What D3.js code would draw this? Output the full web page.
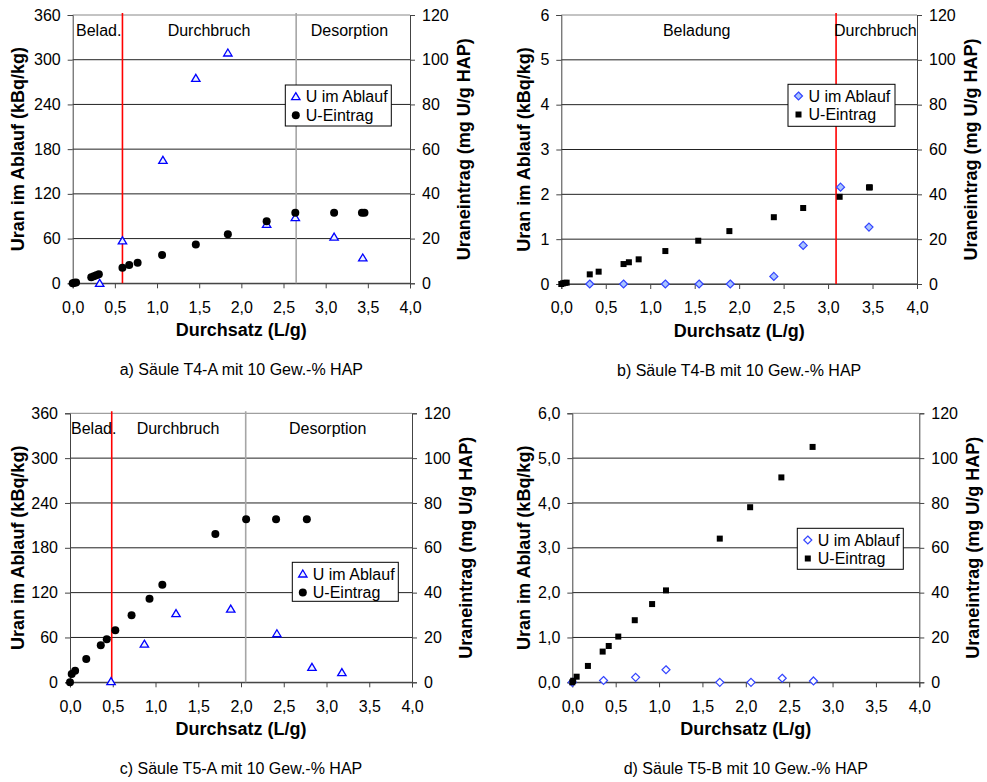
<!DOCTYPE html>
<html><head><meta charset="utf-8">
<script src="https://cdn.jsdelivr.net/npm/d3@7/dist/d3.min.js"></script>
<style>body{margin:0;background:#fff}svg{display:block;font-family:"Liberation Sans",Arial,sans-serif}</style>
</head><body><svg id="c" width="987" height="782"></svg>
<script>
// ---------- DATA ----------
const xTicks = [0, 0.5, 1, 1.5, 2, 2.5, 3, 3.5, 4];
const rightTicks = [0, 20, 40, 60, 80, 100, 120];
const leftTicksAC = [0, 60, 120, 180, 240, 300, 360];
const leftTicksBD = [0, 1, 2, 3, 4, 5, 6];
const captions = ["a) Säule T4-A mit 10 Gew.-% HAP", "b) Säule T4-B mit 10 Gew.-% HAP",
                  "c) Säule T5-A mit 10 Gew.-% HAP", "d) Säule T5-B mit 10 Gew.-% HAP"];
const legendNames = ["U im Ablauf", "U-Eintrag"];

// Panel a (T4-A)
const ablaufA_x = [0.32, 0.59, 1.07, 1.46, 1.84, 2.30, 2.64, 3.10, 3.44];
const ablaufA_y = [0, 57, 165, 275, 309, 79, 88, 62, 34];
const eintragA_x = [0.00, 0.02, 0.04, 0.22, 0.25, 0.28, 0.31, 0.59, 0.67, 0.77, 1.06, 1.46, 1.84, 2.30, 2.64, 3.10, 3.43, 3.46];
const eintragA_y = [0, 0.2, 0.4, 2.7, 3.1, 3.6, 4.1, 7.0, 8.2, 9.2, 12.7, 17.3, 21.9, 27.7, 31.6, 31.6, 31.6, 31.6];
const phasesA = [{label: "Belad.", x: 0.59, color: "red"}, {label: "Durchbruch"}, {label: "Desorption", x: 2.65, color: "gray"}];

// Panel b (T4-B)
const ablaufB_x = [0.32, 0.70, 1.17, 1.55, 1.90, 2.39, 2.72, 3.14, 3.46];
const ablaufB_y = [0, 0, 0, 0, 0, 0.17, 0.86, 2.16, 1.27];
const eintragB_x = [0.00, 0.02, 0.04, 0.06, 0.32, 0.42, 0.70, 0.76, 0.87, 1.17, 1.54, 1.89, 2.39, 2.72, 3.13, 3.46, 3.47];
const eintragB_y = [0, 0.3, 0.5, 0.6, 4.3, 5.5, 8.9, 9.7, 11.0, 14.7, 19.3, 23.6, 29.8, 33.9, 38.9, 43.1, 43.1];

// Panel c (T5-A)
const ablaufC_x = [0.48, 0.87, 1.24, 1.88, 2.42, 2.83, 3.18];
const ablaufC_y = [1, 51, 92, 98, 65, 20, 13];
const eintragC_x = [0.00, 0.02, 0.06, 0.19, 0.36, 0.43, 0.53, 0.72, 0.93, 1.08, 1.70, 2.06, 2.41, 2.77];
const eintragC_y = [0, 3.7, 5.2, 10.4, 16.5, 19.2, 23.2, 29.9, 37.3, 43.5, 66.2, 72.7, 72.7, 72.7];

// Panel d (T5-B)
const ablaufD_x = [0.00, 0.36, 0.73, 1.08, 1.70, 2.06, 2.42, 2.78];
const ablaufD_y = [0, 0.04, 0.11, 0.28, 0, 0, 0.09, 0.03];
const eintragD_x = [0.00, 0.01, 0.05, 0.18, 0.35, 0.42, 0.53, 0.72, 0.92, 1.08, 1.70, 2.05, 2.41, 2.77];
const eintragD_y = [0, 0.7, 2.5, 7.3, 13.7, 16.2, 20.4, 27.7, 34.9, 41.0, 64.1, 78.1, 91.4, 105.0];

// ---------- DRAW ----------
const svg = d3.select("#c");
const fmtX = d => d3.format(".1f")(d).replace(".", ",");
const zip = (xs, ys) => xs.map((x, i) => ({x, y: ys[i]}));

function marker(g, type, fill) {
  if (type === "tri") g.append("path").attr("d", "M0,-4L4.2,3L-4.2,3Z").attr("fill", "#eef3ff").attr("stroke", "#0000ff").attr("stroke-width", 1.3);
  else if (type === "dia") g.append("path").attr("d", "M0,-4L4,0L0,4L-4,0Z").attr("fill", fill).attr("stroke", "#3344ff").attr("stroke-width", 1.2);
  else if (type === "circ") g.append("circle").attr("r", 4).attr("fill", "#000");
  else if (type === "sq") g.append("rect").attr("x", -3).attr("y", -3).attr("width", 6).attr("height", 6).attr("fill", "#000");
}

function panel(o) {
  const g = svg.append("g");
  const x = d3.scaleLinear().domain([0, 4]).range([o.l, o.r]);
  const yL = d3.scaleLinear().domain([0, o.leftMax]).range([o.b, o.t]);
  const yR = d3.scaleLinear().domain([0, 120]).range([o.b, o.t]);
  // gridlines
  g.append("g").selectAll("line").data(o.leftTicks).join("line")
    .attr("x1", o.l).attr("x2", o.r).attr("y1", d => yL(d)).attr("y2", d => yL(d))
    .attr("stroke", d => d === o.leftMax ? "#888" : "#222").attr("stroke-width", 1);
  // axes
  const ax = g.append("g").attr("transform", `translate(0,${o.b})`)
    .call(d3.axisBottom(x).tickValues(xTicks).tickFormat(fmtX).tickSize(5).tickPadding(13));
  const al = g.append("g").attr("transform", `translate(${o.l},0)`)
    .call(d3.axisLeft(yL).tickValues(o.leftTicks).tickFormat(o.leftFmt).tickSize(5).tickPadding(7));
  const ar = g.append("g").attr("transform", `translate(${o.r},0)`)
    .call(d3.axisRight(yR).tickValues(rightTicks).tickSize(5).tickPadding(7));
  [ax, al, ar].forEach(a => {
    a.selectAll("text").attr("font-size", 16).attr("fill", "#000").attr("font-family", "Liberation Sans, Arial, sans-serif");
    a.selectAll("line,path").attr("stroke", "#444");
  });
  // phase lines
  o.phases.forEach(p => {
    if (p.x !== undefined) g.append("line").attr("x1", x(p.x)).attr("x2", x(p.x)).attr("y1", o.t - 2).attr("y2", o.b)
      .attr("stroke", p.color === "red" ? "#ff0000" : "#a6a6a6").attr("stroke-width", 1.6);
  });
  o.labels.forEach(lb => {
    g.append("text").attr("x", lb.px).attr("y", o.t + 20.7).attr("text-anchor", lb.anchor)
      .attr("font-size", 16).text(lb.text);
  });
  // series
  zip(o.ax, o.ay).forEach(d => marker(g.append("g").attr("transform", `translate(${x(d.x)},${yL(d.y)})`), o.ablaufType, o.diaFill));
  zip(o.ex, o.ey).forEach(d => marker(g.append("g").attr("transform", `translate(${x(d.x)},${yR(d.y)})`), o.eintragType));
  // titles
  const cy = (o.t + o.b) / 2, cx = (o.l + o.r) / 2;
  g.append("text").attr("transform", `translate(${o.leftTitleX},${cy}) rotate(-90)`).attr("text-anchor", "middle")
    .attr("dominant-baseline", "central").attr("font-size", 18).attr("font-weight", "bold").text("Uran im Ablauf (kBq/kg)");
  g.append("text").attr("transform", `translate(${o.r + 54},${cy}) rotate(-90)`).attr("text-anchor", "middle")
    .attr("dominant-baseline", "central").attr("font-size", 18).attr("font-weight", "bold").text("Uraneintrag (mg U/g HAP)");
  g.append("text").attr("x", cx).attr("y", o.b + 52.7).attr("text-anchor", "middle").attr("font-size", 18)
    .attr("font-weight", "bold").text("Durchsatz (L/g)");
  g.append("text").attr("x", cx).attr("y", o.b + 92).attr("text-anchor", "middle").attr("font-size", 16).text(o.caption);
  // legend
  const L = o.legend;
  g.append("rect").attr("x", L.x).attr("y", L.y).attr("width", L.w).attr("height", L.h)
    .attr("fill", "#fff").attr("stroke", "#000").attr("stroke-width", 1);
  [o.ablaufType, o.eintragType].forEach((t, i) => {
    const ry = L.y + 11.7 + i * 18.5;
    marker(g.append("g").attr("transform", `translate(${L.x + 10.5},${ry})`), t, o.diaFill);
    g.append("text").attr("x", L.x + 20.5).attr("y", ry).attr("dominant-baseline", "central")
      .attr("font-size", 16).text(legendNames[i]);
  });
}

panel({l: 72.7, r: 410, t: 15, b: 283.3, leftMax: 360, leftTicks: leftTicksAC, leftFmt: d => d,
  ax: ablaufA_x, ay: ablaufA_y, ex: eintragA_x, ey: eintragA_y, ablaufType: "tri", eintragType: "circ",
  phases: phasesA, caption: captions[0], leftTitleX: 18,
  labels: [{text: "Belad.", px: 76, anchor: "start"}, {text: "Durchbruch", px: 209, anchor: "middle"}, {text: "Desorption", px: 310.7, anchor: "start"}],
  legend: {x: 285.3, y: 85, w: 106, h: 41}});

panel({l: 561.3, r: 917, t: 15, b: 284, leftMax: 6, leftTicks: leftTicksBD, leftFmt: d => d,
  ax: ablaufB_x, ay: ablaufB_y, ex: eintragB_x, ey: eintragB_y, ablaufType: "dia", eintragType: "sq", diaFill: "#a9c4ff",
  phases: [{label: "Beladung"}, {label: "Durchbruch", x: 3.09, color: "red"}], caption: captions[1], leftTitleX: 524,
  labels: [{text: "Beladung", px: 696.7, anchor: "middle"}, {text: "Durchbruch", px: 834, anchor: "start"}],
  legend: {x: 788, y: 84.3, w: 107, h: 42}});

panel({l: 70, r: 412, t: 413.3, b: 682.3, leftMax: 360, leftTicks: leftTicksAC, leftFmt: d => d,
  ax: ablaufC_x, ay: ablaufC_y, ex: eintragC_x, ey: eintragC_y, ablaufType: "tri", eintragType: "circ",
  phases: [{label: "Belad.", x: 0.488, color: "red"}, {label: "Durchbruch"}, {label: "Desorption", x: 2.055, color: "gray"}],
  caption: captions[2], leftTitleX: 18,
  labels: [{text: "Belad.", px: 71, anchor: "start"}, {text: "Durchbruch", px: 178, anchor: "middle"}, {text: "Desorption", px: 327.7, anchor: "middle"}],
  legend: {x: 292.3, y: 562.3, w: 106, h: 39}});

panel({l: 572.3, r: 919.3, t: 413.3, b: 682.3, leftMax: 6, leftTicks: leftTicksBD, leftFmt: d => d3.format(".1f")(d).replace(".", ","),
  ax: ablaufD_x, ay: ablaufD_y, ex: eintragD_x, ey: eintragD_y, ablaufType: "dia", eintragType: "sq", diaFill: "#ffffff",
  phases: [], caption: captions[3], leftTitleX: 524,
  labels: [],
  legend: {x: 797.3, y: 528.3, w: 106, h: 41}});
</script></body></html>
